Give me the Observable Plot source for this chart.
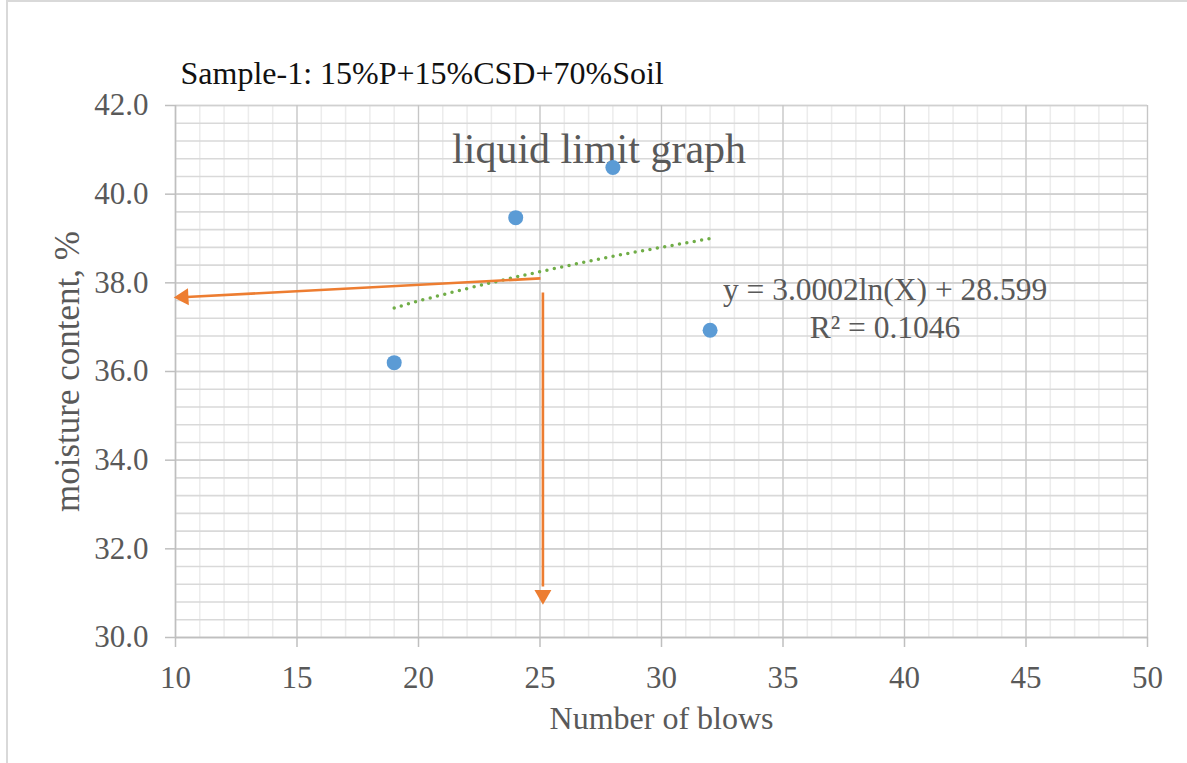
<!DOCTYPE html>
<html><head><meta charset="utf-8">
<script src="https://cdn.jsdelivr.net/npm/d3@7"></script>
<script src="https://cdn.jsdelivr.net/npm/@observablehq/plot@0.6"></script>
<style>
html,body{margin:0;padding:0;background:#fff;overflow:hidden;width:1187px;height:763px}
#frame{position:absolute;left:6px;top:0;width:1300px;height:900px;border:2px solid #d9d9d9;box-sizing:border-box}
#chart{position:absolute;left:0;top:0}
</style></head><body><div id="frame"></div><div id="chart"></div>
<script>
// ---- data ----
const blows = [19, 24, 28, 32];
const moisture = [36.2, 39.47, 40.6, 36.93];
const trendX = [19, 20, 22, 24, 26, 28, 30, 32];
const trendY = [37.43, 37.59, 37.87, 38.13, 38.37, 38.60, 38.80, 39.00];
const arrowX1 = [25.02, 25.12];
const arrowY1 = [38.10, 37.78];
const arrowX2 = [10.45, 25.12];
const arrowY2 = [37.68, 31.15];
const headX = [10.33, 25.12];
const headY = [37.68, 30.96];
const headRotate = [-93, 180];
const xTicks = [10, 15, 20, 25, 30, 35, 40, 45, 50];
const yTicks = [30, 32, 34, 36, 38, 40, 42];
const sampleTitle = "Sample-1: 15%P+15%CSD+70%Soil";
const graphTitle = ["liquid limit graph"];
const graphTitleX = [27.43];
const graphTitleY = [40.70];
const eqLines = ["y = 3.0002ln(X) + 28.599", "R² = 0.1046"];
const eqX = [39.2, 39.2];
const eqY = [37.62, 36.76];
const xLabel = "Number of blows";
const yLabel = "moisture content, %";

// ---- tables ----
const points = blows.map((b, i) => ({x: b, y: moisture[i]}));
const trend = trendX.map((x, i) => ({x, y: trendY[i]}));
const arrows = arrowX1.map((x1, i) => ({x1, y1: arrowY1[i], x2: arrowX2[i], y2: arrowY2[i]}));
const heads = headX.map((x, i) => ({x, y: headY[i], r: headRotate[i]}));
const eq = eqLines.map((t, i) => ({t, x: eqX[i], y: eqY[i]}));
const gt = graphTitle.map((t, i) => ({t, x: graphTitleX[i], y: graphTitleY[i]}));
const minorX = d3.range(10, 51);
const minorY = d3.range(0, 31).map(i => 30 + i * 0.4);

const grey = "#595959";
const orange = "#ED7D31";

const chart = Plot.plot({
  width: 1187,
  height: 763,
  marginLeft: 175,
  marginRight: 40,
  marginTop: 105,
  marginBottom: 126,
  style: {fontFamily: "'Liberation Serif', 'Times New Roman', serif", background: "transparent"},
  x: {domain: [10, 50], nice: false},
  y: {domain: [30, 42], nice: false},
  marks: [
    Plot.gridX(minorX, {stroke: "#ececec", strokeOpacity: 1, strokeWidth: 1.5}),
    Plot.gridY(minorY, {stroke: "#d9d9d9", strokeOpacity: 1, strokeWidth: 1.6}),
    Plot.gridY(yTicks, {stroke: "#d0d0d0", strokeOpacity: 1, strokeWidth: 1.6}),
    Plot.gridX(xTicks, {stroke: "#c6c6c6", strokeOpacity: 1, strokeWidth: 1.2}),
    Plot.ruleY([30], {stroke: "#bfbfbf", strokeWidth: 1.5}),
    Plot.ruleX([10], {stroke: "#bfbfbf", strokeWidth: 1.5}),
    Plot.axisX({ticks: xTicks, tickSize: 10, tickPadding: 18, stroke: "#bfbfbf", strokeWidth: 1.5, fill: grey, fontSize: 31, label: null}),
    Plot.axisY({ticks: yTicks, tickSize: 10, tickPadding: 17, stroke: "#bfbfbf", strokeWidth: 1.5, fill: grey, fontSize: 31, tickFormat: d3.format(".1f"), label: null}),
    Plot.text(gt, {x: "x", y: "y", text: "t", fontSize: 42, fill: grey, lineAnchor: "bottom", textAnchor: "middle"}),
    Plot.line(trend, {x: "x", y: "y", curve: "natural", stroke: "#70AD47", strokeWidth: 3.5, strokeDasharray: "0 7.5", strokeLinecap: "round"}),
    Plot.link(arrows, {x1: "x1", y1: "y1", x2: "x2", y2: "y2", stroke: orange, strokeWidth: 2.6}),
    Plot.dot(heads, {x: "x", y: "y", rotate: "r", symbol: "triangle", r: 6.3, fill: orange, stroke: "none"}),
    Plot.dot(points, {x: "x", y: "y", r: 7.5, fill: "#5B9BD5", stroke: "none"}),
    Plot.text(eq, {x: "x", y: "y", text: "t", fontSize: 31.5, fill: grey, lineAnchor: "bottom", textAnchor: "middle"}),
    Plot.text([sampleTitle], {frameAnchor: "top-left", dx: 5, dy: -22, lineAnchor: "bottom", textAnchor: "start", fontSize: 32, fill: "#111"}),
    Plot.text([xLabel], {frameAnchor: "bottom", dy: 91, lineAnchor: "bottom", textAnchor: "middle", fontSize: 32, fill: grey}),
    Plot.text([yLabel], {frameAnchor: "left", dx: -97, rotate: -90, lineAnchor: "bottom", textAnchor: "middle", fontSize: 35, fill: grey})
  ]
});
document.getElementById("chart").append(chart);
</script></body></html>
